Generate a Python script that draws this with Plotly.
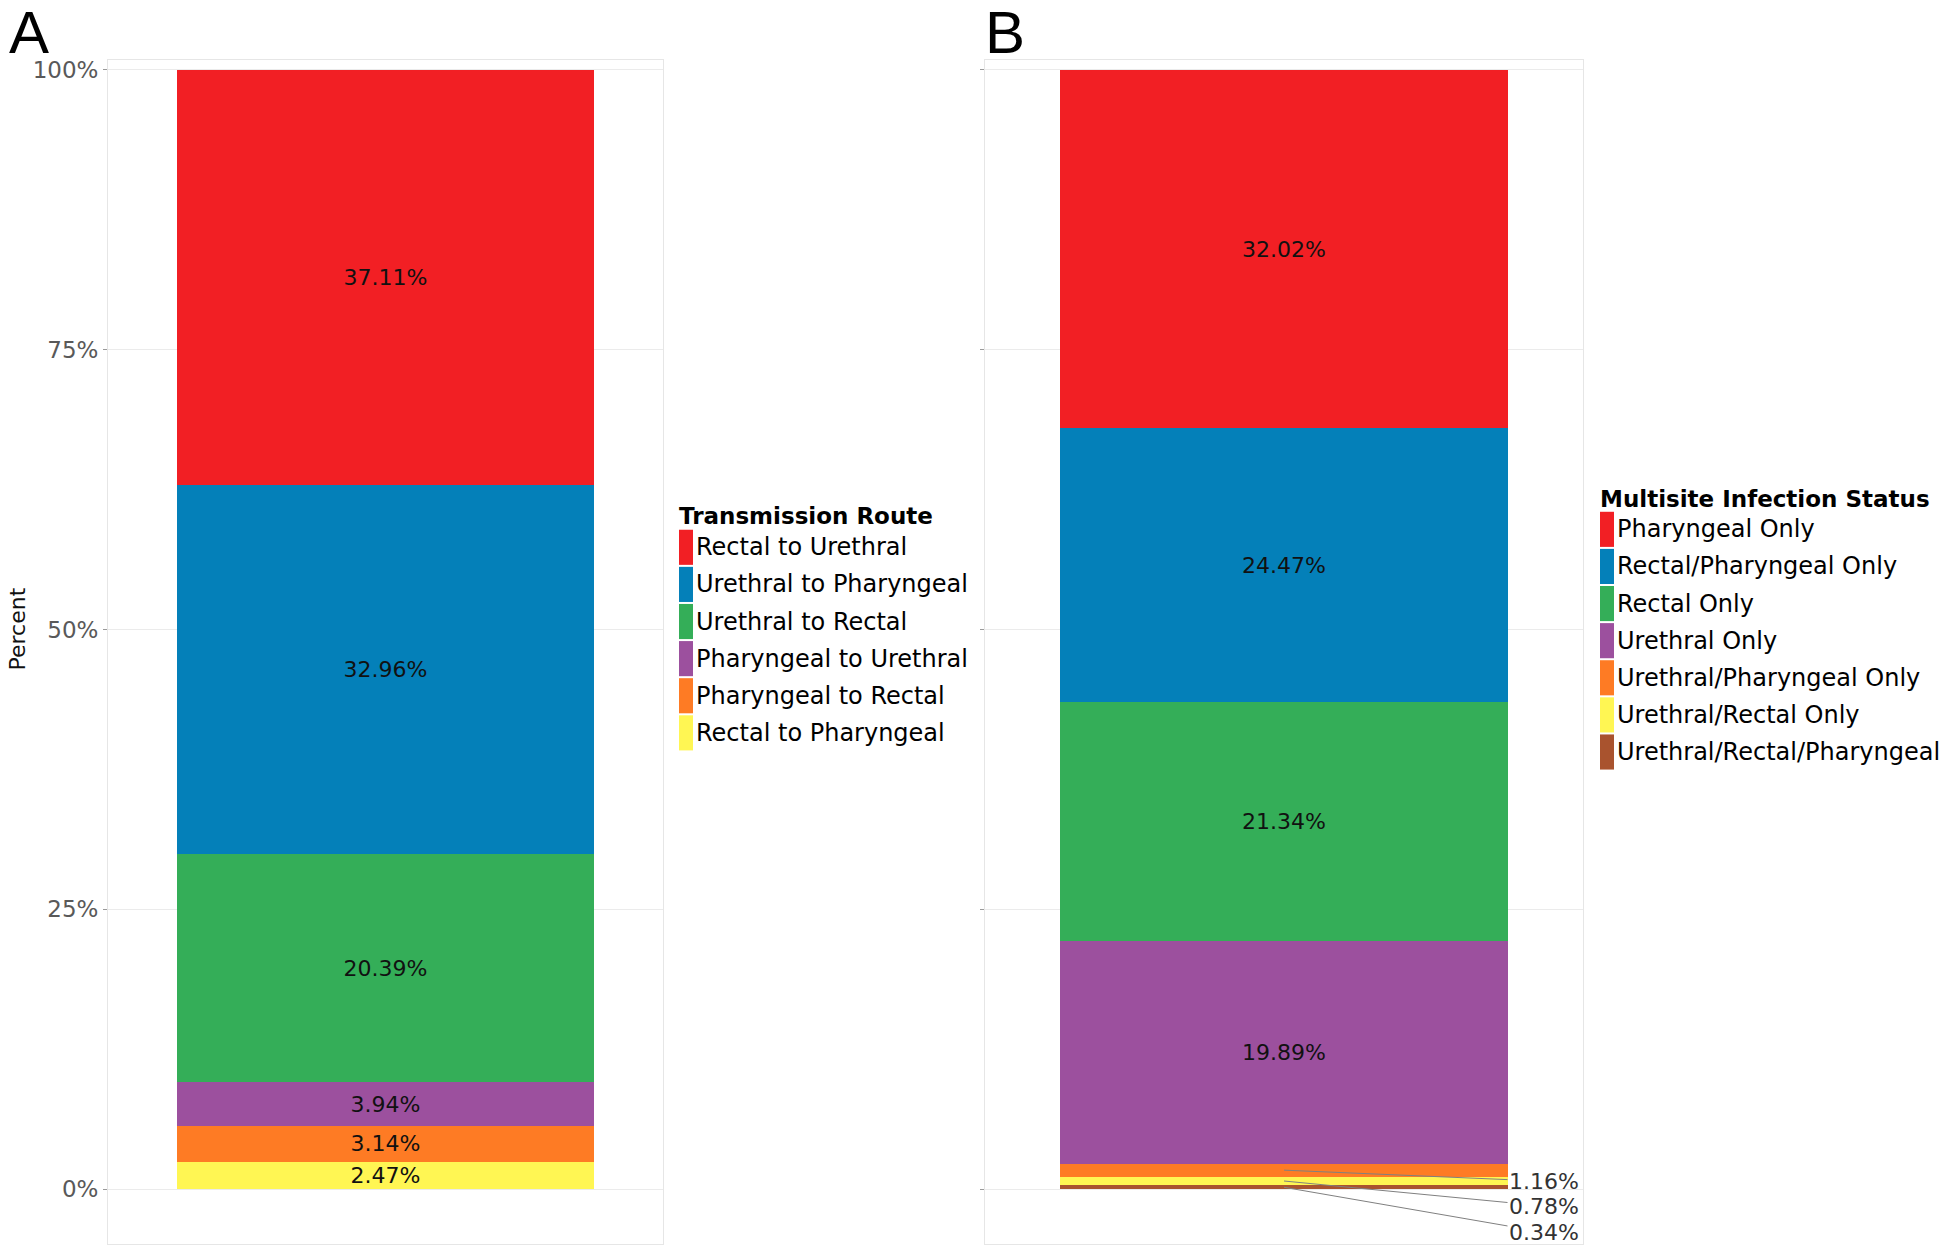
import plotly.graph_objects as go

# ---------------- data ----------------
routes = ["Rectal to Urethral", "Urethral to Pharyngeal", "Urethral to Rectal",
          "Pharyngeal to Urethral", "Pharyngeal to Rectal", "Rectal to Pharyngeal"]
route_pct = [37.11, 32.96, 20.39, 3.94, 3.14, 2.47]

statuses = ["Pharyngeal Only", "Rectal/Pharyngeal Only", "Rectal Only", "Urethral Only",
            "Urethral/Pharyngeal Only", "Urethral/Rectal Only", "Urethral/Rectal/Pharyngeal"]
status_pct = [32.02, 24.47, 21.34, 19.89, 1.16, 0.78, 0.34]

palette = ["#F21F24", "#0480B9", "#34AE58", "#9C509E", "#FE7B24", "#FFF653", "#A9532E"]

y_ticks = [0, 25, 50, 75, 100]
y_ticktext = ["0%", "25%", "50%", "75%", "100%"]

legend_a_title = "Transmission Route"
legend_b_title = "Multisite Infection Status"
y_title = "Percent"

# ---------------- layout constants ----------------
W, H = 1950, 1256
FONT = "DejaVu Sans"
def px_x(p): return p / W
def px_y(p): return 1 - p / H

fig = go.Figure()

def add_stack(names, vals, xa, ya, label_min):
    items = list(zip(names, vals, palette))
    for name, v, c in reversed(items):  # bottom of stack first
        fig.add_trace(go.Bar(
            x=[1], y=[v], name=name, width=0.9,
            marker=dict(color=c, line=dict(width=0)),
            text=[f"{v:.2f}%" if v >= label_min else ""],
            textposition="inside", insidetextanchor="middle", textangle=0,
            constraintext="none",
            textfont=dict(family=FONT, size=22, color="#111111"),
            xaxis=xa, yaxis=ya, showlegend=False, hoverinfo="name+y",
        ))

add_stack(routes, route_pct, "x", "y", 0)
add_stack(statuses, status_pct, "x2", "y2", 2)

# ---------------- axes ----------------
yrange = [-4.90, 100.89]
ydom = [1 - 1244 / H, 1 - 57 / H]
common_x = dict(range=[0.4, 1.6], showticklabels=False, ticks="", showgrid=False,
                zeroline=False, showline=True, mirror=True, linecolor="#E6E6E6", linewidth=1)
common_y = dict(range=yrange, domain=ydom, tickvals=y_ticks, ticktext=y_ticktext,
                ticks="outside", ticklen=4, tickcolor="#9A9A9A", tickwidth=1,
                gridcolor="#EBEBEB", gridwidth=1, zeroline=False,
                showline=True, mirror=True, linecolor="#E6E6E6", linewidth=1,
                tickfont=dict(family=FONT, size=23, color="#595959"))

fig.update_layout(
    xaxis=dict(domain=[px_x(108), px_x(663)], anchor="y", **common_x),
    yaxis=dict(anchor="x", **common_y),
    xaxis2=dict(domain=[px_x(985), px_x(1583)], anchor="y2", **common_x),
    yaxis2=dict(anchor="x2", showticklabels=False, **common_y),
)

annotations = []
shapes = []

# y axis title (placed like ggplot)
annotations.append(dict(text=y_title, x=px_x(17), y=px_y(628), xref="paper", yref="paper",
                        xanchor="center", yanchor="middle", textangle=-90, showarrow=False,
                        font=dict(family=FONT, size=22, color="#111111")))

# panel tags
annotations.append(dict(text="A", x=px_x(7), y=px_y(30), xref="paper", yref="paper",
                        xanchor="left", yanchor="middle", showarrow=False,
                        font=dict(family="Liberation Sans", size=60, color="#000000")))
annotations.append(dict(text="B", x=px_x(983), y=px_y(30), xref="paper", yref="paper",
                        xanchor="left", yanchor="middle", showarrow=False,
                        font=dict(family="Liberation Sans", size=60, color="#000000")))

# repelled labels for the thin segments of panel B
cum = 0
mids = []
for v in reversed(status_pct):
    mids.append(cum + v / 2)
    cum += v
mids = list(reversed(mids))
label_offsets = {4: 11, 5: 25, 6: 45}
for i, ay in label_offsets.items():
    annotations.append(dict(text=f"{status_pct[i]:.2f}%", x=1, y=mids[i], xref="x2", yref="y2",
                            ax=260, ay=ay, showarrow=True, arrowhead=0, arrowwidth=1,
                            arrowcolor="#808080", standoff=0, startstandoff=0,
                            font=dict(family=FONT, size=22, color="#333333")))

# manual legends (ggplot style tall key swatches)
def add_legend(title, names, x_left, title_y, first_top, step):
    annotations.append(dict(text=title, x=px_x(x_left - 2), y=px_y(title_y), xref="paper", yref="paper",
                            xanchor="left", yanchor="middle", showarrow=False,
                            font=dict(family=FONT, size=23, color="#000000", weight="bold")))
    for i, (name, c) in enumerate(zip(names, palette)):
        top = first_top + i * step
        shapes.append(dict(type="rect", xref="paper", yref="paper",
                           x0=px_x(x_left), x1=px_x(x_left + 14),
                           y0=px_y(top + step - 1), y1=px_y(top + 1),
                           fillcolor=c, line=dict(width=0)))
        annotations.append(dict(text=name, x=px_x(x_left + 15), y=px_y(top + step / 2),
                                xref="paper", yref="paper", xanchor="left", yanchor="middle",
                                showarrow=False,
                                font=dict(family=FONT, size=24, color="#000000")))

add_legend(legend_a_title, routes, 679, 514, 527, 37.2)
add_legend(legend_b_title, statuses, 1600, 497, 509, 37.2)

fig.update_layout(
    width=W, height=H, barmode="stack",
    margin=dict(l=0, r=0, t=0, b=0),
    paper_bgcolor="white", plot_bgcolor="white",
    showlegend=False, annotations=annotations, shapes=shapes,
    font=dict(family=FONT),
)

fig.write_html("out.html", config={"displayModeBar": False},
               post_script="document.body.style.margin='0px';")
